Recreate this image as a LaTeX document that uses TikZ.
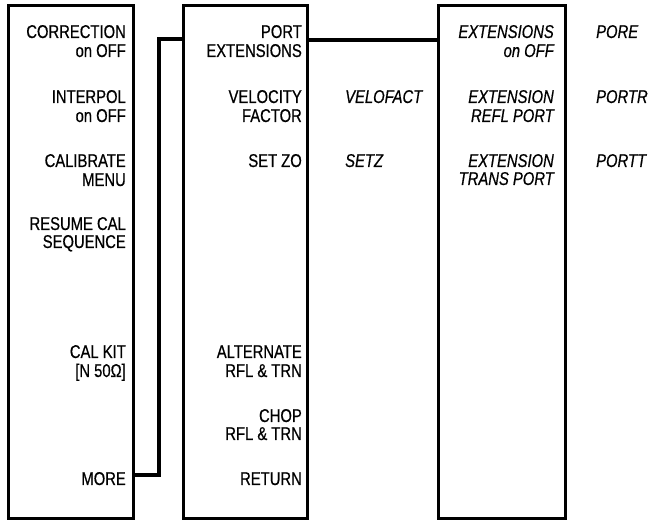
\documentclass[tikz,border=0pt]{standalone}
\usepackage{fontspec}
\setmainfont{Liberation Sans}[FakeStretch=0.8,FakeBold=0.6]
\begin{document}
\begin{tikzpicture}[x=1pt,y=1pt,
  menubox/.style={draw=black,line width=3pt,rectangle,inner sep=0pt},
  lbl/.style={anchor=base east,inner sep=0pt,font=\fontsize{18.5}{19}\selectfont},
  ilbl/.style={anchor=base east,inner sep=0pt,font=\fontsize{18.5}{19}\selectfont\itshape},
  mnem/.style={anchor=base west,inner sep=0pt,font=\fontsize{18.5}{19}\selectfont\itshape},
  wire/.style={draw=black,line width=3.2pt}]
\useasboundingbox (0,0) rectangle (654,520);
% boxes
\node[menubox,minimum width=125pt,minimum height=512pt] (b1) at (70.5,258) {};
\node[menubox,minimum width=124pt,minimum height=512pt] (b2) at (245,258) {};
\node[menubox,minimum width=127pt,minimum height=512pt] (b3) at (501.5,258) {};
% box 1 labels
\node[lbl] (c1a) at (126,482) {CORRECTION};
\node[lbl] (c1b) at (126,463) {on OFF};
\node[lbl] (c2a) at (126,417) {INTERPOL};
\node[lbl] (c2b) at (126,398) {on OFF};
\node[lbl] (c3a) at (126,353) {CALIBRATE};
\node[lbl] (c3b) at (126,334) {MENU};
\node[lbl] (c4a) at (126,290) {RESUME CAL};
\node[lbl] (c4b) at (126,272) {SEQUENCE};
\node[lbl] (c5a) at (126,162) {CAL KIT};
\node[lbl] (c5b) at (126,143) {[N 50Ω]};
\node[lbl] (more) at (126,35) {MORE};
% box 2 labels
\node[lbl] (p1a) at (302,482) {PORT};
\node[lbl] (p1b) at (302,463) {EXTENSIONS};
\node[lbl] (p2a) at (302,417) {VELOCITY};
\node[lbl] (p2b) at (302,398) {FACTOR};
\node[lbl] (p3) at (302,353) {SET ZO};
\node[lbl] (p4a) at (302,162) {ALTERNATE};
\node[lbl] (p4b) at (302,143) {RFL \& TRN};
\node[lbl] (p5a) at (302,98) {CHOP};
\node[lbl] (p5b) at (302,80) {RFL \& TRN};
\node[lbl] (ret) at (302,35) {RETURN};
\node[mnem] (m1) at (345,417) {VELOFACT};
\node[mnem] (m2) at (345,353) {SETZ};
% box 3 labels
\node[ilbl] (e1a) at (554,482) {EXTENSIONS};
\node[ilbl] (e1b) at (554,463) {on OFF};
\node[ilbl] (e2a) at (554,417) {EXTENSION};
\node[ilbl] (e2b) at (554,398) {REFL PORT};
\node[ilbl] (e3a) at (554,353) {EXTENSION};
\node[ilbl] (e3b) at (554,335) {TRANS PORT};
\node[mnem] (n1) at (596,482) {PORE};
\node[mnem] (n2) at (596,417) {PORTR};
\node[mnem] (n3) at (596,353) {PORTT};
% connectors
\coordinate (j1) at (159,45);
\coordinate (j2) at (159,481);
\draw[wire] (b1.east |- j1) -- (j1) -- (j2) -- (b2.west |- j2);
\draw[wire] (b2.east |- 0,480) -- (b3.west |- 0,480);
\end{tikzpicture}
\end{document}
